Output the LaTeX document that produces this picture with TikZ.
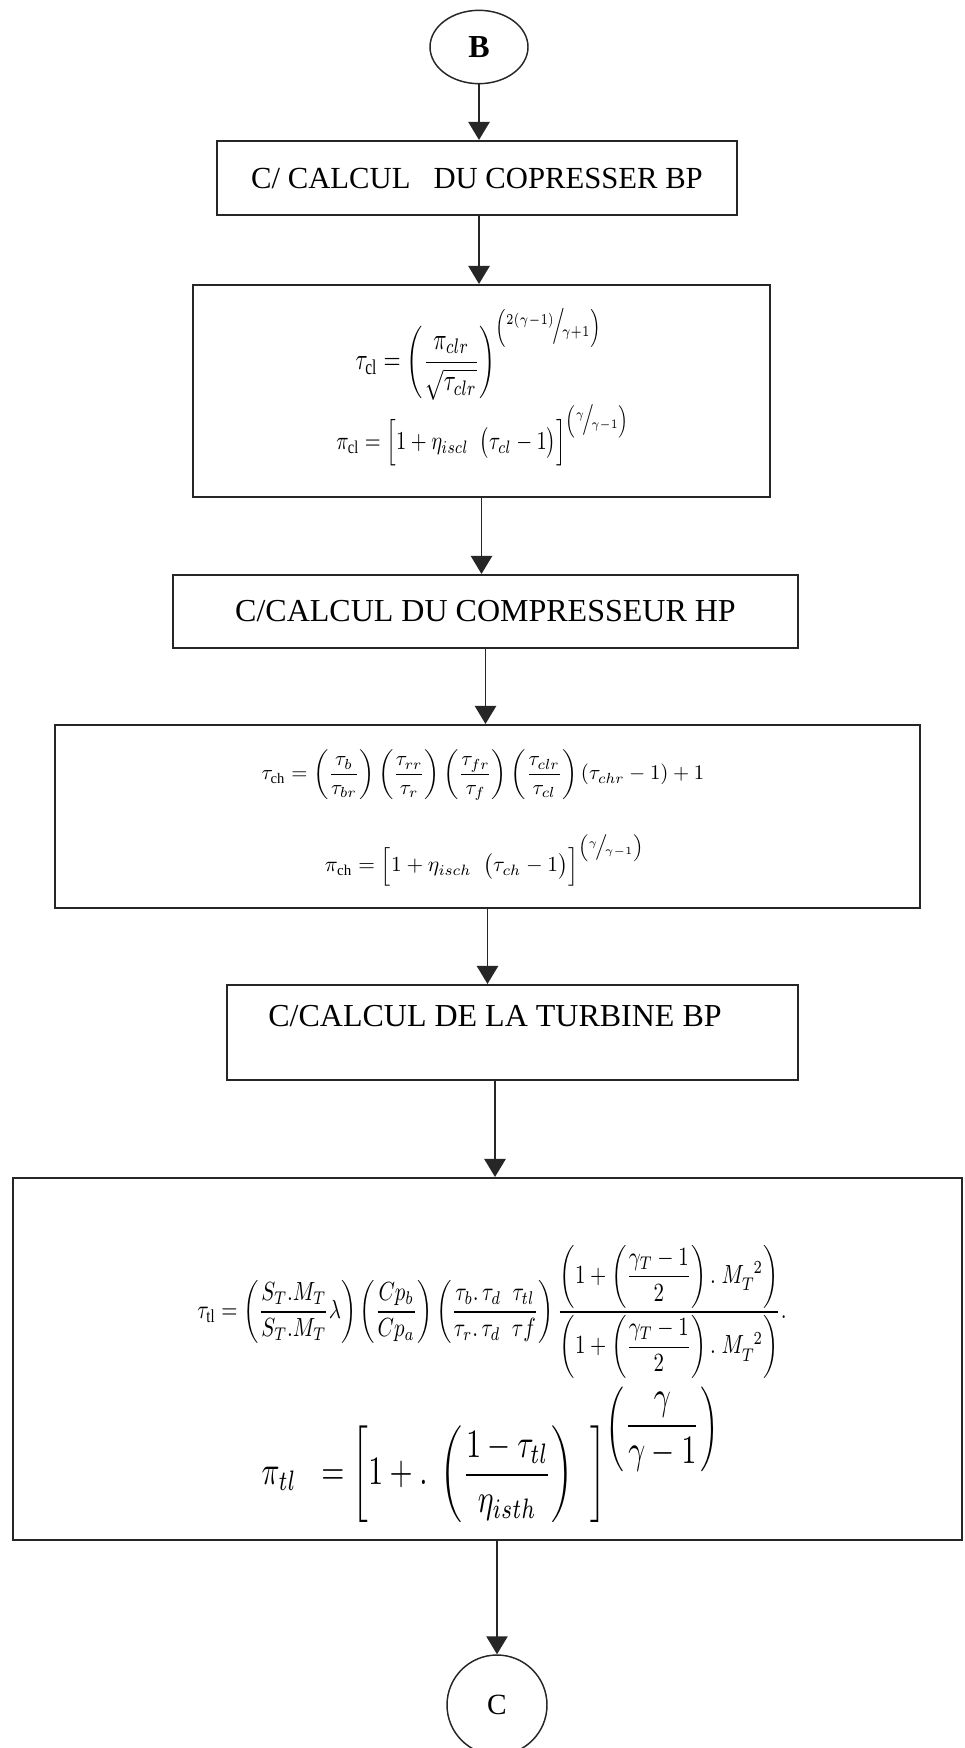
\documentclass[tikz,border=0pt]{standalone}
\usepackage{amsmath}
\usepackage{fontspec}
\setmainfont{Liberation Serif}
\usepackage{graphicx}
\usetikzlibrary{arrows.meta,shapes.geometric,calc}
\newcommand{\fitw}[2]{\resizebox{#1}{!}{$\displaystyle #2$}}
\newcommand{\fitwh}[3]{\resizebox*{#1}{#2}{$\displaystyle #3$}}
\newcommand{\slfrac}[2]{{}^{#1}\!\big/\!_{#2}}
\begin{document}
\begin{tikzpicture}[x=0.75pt,y=-0.75pt,
  box/.style={draw=black!85, line width=1.6pt, inner sep=0pt, align=center,
    font=\fontsize{24}{28}\selectfont},
  eq/.style={inner sep=0pt},
  arr/.style={draw=black!85, line width=1.1pt, -{Triangle[width=16pt,length=13.5pt]}},
  term/.style={draw=black!85, line width=1.1pt, inner sep=0pt}]
\useasboundingbox[fill=white] (0,0) rectangle (964,1748);

% start / end
\node[term, ellipse, minimum width=73.5pt, minimum height=55pt,
      font=\fontsize{24}{28}\selectfont\bfseries] (B) at (479,47) {B};
\node[term, circle, minimum size=75pt, font=\fontsize{22}{26}\selectfont] (C) at (497,1705) {C};

% boxes
\node[box, minimum width=390pt, minimum height=55.5pt, font=\fontsize{23}{27}\selectfont] (b1) at (477,178) {C/ CALCUL\hspace{0.5em} DU COPRESSER BP};
\node[box, minimum width=432.75pt, minimum height=159pt] (b2) at (481.5,391) {};
\node[box, minimum width=468.75pt, minimum height=54.75pt] (b3) at (485.5,611.5) {C/CALCUL DU COMPRESSEUR HP};
\node[box, minimum width=648.75pt, minimum height=137.25pt] (b4) at (487.5,816.5) {};
\node[box, minimum width=428.25pt, minimum height=71.25pt] (b5) at (512.5,1032.5) {};
\node[inner sep=0pt, font=\fontsize{24}{28}\selectfont] (b5t) at (495,1016) {C/CALCUL DE LA TURBINE BP};
\node[box, minimum width=711.75pt, minimum height=271.5pt] (b6) at (487.5,1359) {};

% formulas
\node[eq] (tcl) at (479,354) {\fitwh{185pt}{69pt}{\tau_{\mathrm{cl}}=\left(\frac{\pi_{clr}}{\sqrt{\tau_{clr}}}\right)^{\left(\slfrac{2(\gamma-1)}{\gamma+1}\right)}}};
\node[eq] (pcl) at (483,435) {\fitwh{220pt}{46.5pt}{\pi_{\mathrm{cl}}=\Big[1+\eta_{iscl}\;\;\big(\tau_{cl}-1\big)\Big]^{\left(\slfrac{\gamma}{\gamma-1}\right)}}};

\node[eq] (tch) at (483,775) {\fitw{332pt}{\tau_{\mathrm{ch}}=\left(\frac{\tau_b}{\tau_{br}}\right)\left(\frac{\tau_{rr}}{\tau_r}\right)\left(\frac{\tau_{fr}}{\tau_f}\right)\left(\frac{\tau_{clr}}{\tau_{cl}}\right)\left(\tau_{chr}-1\right)+1}};
\node[eq] (pch) at (485,860) {\fitw{240pt}{\pi_{\mathrm{ch}}=\Big[1+\eta_{isch}\;\;\big(\tau_{ch}-1\big)\Big]^{\left(\slfrac{\gamma}{\gamma-1}\right)}}};

\node[eq] (ttl) at (492,1312) {\fitwh{442pt}{100pt}{\tau_{\mathrm{tl}}=\left(\frac{S_T.M_T}{S_T.M_T}\lambda\right)\left(\frac{Cp_b}{Cp_a}\right)\left(\frac{\tau_b.\,\tau_d\;\;\tau_{tl}}{\tau_r.\,\tau_d\;\;\tau f}\right)\frac{\left(1+\left(\dfrac{\gamma_T-1}{2}\right).\;M_T^{\;\;2}\right)}{\left(1+\left(\dfrac{\gamma_T-1}{2}\right).\;M_T^{\;\;2}\right)}.}};
\node[eq] (ptl) at (491,1455) {\fitwh{344pt}{102pt}{\pi_{tl}\;\;=\left[1+.\;\left(\frac{1-\tau_{tl}}{\eta_{isth}}\right)\;\;\right]^{\left(\dfrac{\gamma}{\gamma-1}\right)}}};

% connectors
\draw[arr] (B.south) -- (B.south |- b1.north);
\draw[arr] (B.south |- b1.south) -- (B.south |- b2.north);
\draw[arr] (b2.south) -- (b2.south |- b3.north);
\draw[arr] (b3.south) -- (b3.south |- b4.north);
\draw[arr] (b4.south) -- (b4.south |- b5.north);
\draw[arr] (b5t |- b5.south) -- (b5t |- b6.north);
\draw[arr] (C.north |- b6.south) -- (C.north);
\end{tikzpicture}
\end{document}
